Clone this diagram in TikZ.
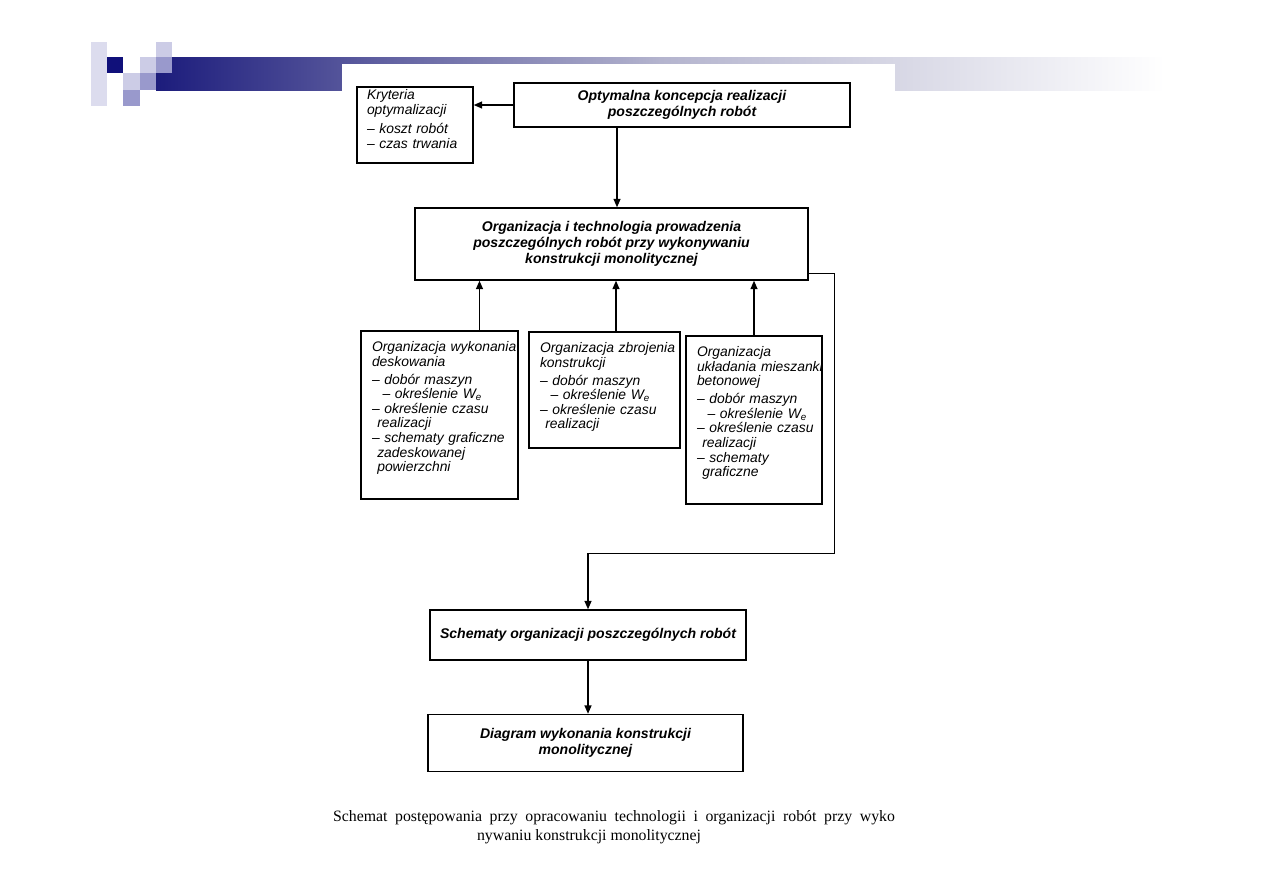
\documentclass[tikz,border=0pt]{standalone}
\usepackage{fontspec}
\setmainfont{Liberation Serif}
\setsansfont{Liberation Sans}
\usetikzlibrary{arrows.meta,positioning,calc}

\definecolor{navyhead}{HTML}{10107A}
\definecolor{barblue}{HTML}{1C1C7C}
\definecolor{barmid}{HTML}{B4B4CE}
\definecolor{sqlight}{HTML}{CCCCE6}
\definecolor{sqmid}{HTML}{9999CC}
\definecolor{sqpale}{HTML}{DCDCEE}

\hyphenpenalty=10000
\exhyphenpenalty=10000

\begin{document}
\begin{tikzpicture}[
    x=0.02cm, y=-0.02cm,
    box/.style={draw, line width=0.8pt, inner sep=0pt, font=\sffamily\bfseries\itshape\fontsize{8}{9}\selectfont, align=center},
    sub/.style={draw, line width=0.8pt, inner xsep=0.22cm, inner ysep=0.15cm, text height=0.26cm, font=\sffamily\itshape\fontsize{7.9}{8.3}\selectfont, align=left},
    arr/.style={-{Triangle[length=1.7mm, width=1.4mm]}, line width=0.8pt},
    caption/.style={font=\fontsize{9}{11}\selectfont, inner sep=0pt}
]
\useasboundingbox (0,0) rectangle (1263,893);

% slide header
\fill[sqpale] (91,42) rectangle (107,106);
\fill[navyhead] (107,57) rectangle (123,73);
\fill[sqlight] (123,73) rectangle (140,90);
\fill[sqmid] (123,90) rectangle (140,106);
\fill[sqlight] (140,57) rectangle (156,73);
\fill[sqmid] (140,73) rectangle (156,90);
\fill[sqlight] (156,42) rectangle (172,57);
\shade[left color=barblue, right color=white, middle color=barmid] (156,57) rectangle (1165,90);
\fill[sqmid] (156,57) rectangle (172,73);
\fill[white] (342,64) rectangle (895,893);

% boxes
\node[box, minimum width=6.72cm, minimum height=0.88cm] (opt) at (682,105) {Optymalna koncepcja realizacji\\poszczególnych robót};
\node[sub, inner xsep=0.2cm, inner ysep=0.05cm, text height=0.2cm, text width=1.92cm, text depth=1.22cm, minimum width=2.32cm, minimum height=1.52cm] (krit) at (415,125) {Kryteria\\optymalizacji\\[3pt]–~koszt~robót\\–~czas~trwania};
\node[box, minimum width=7.86cm, minimum height=1.44cm] (org) at (611.5,244) {Organizacja i technologia prowadzenia\\poszczególnych robót przy wykonywaniu\\konstrukcji monolitycznej};

\node[sub, text width=2.70cm, text depth=2.80cm, minimum width=3.14cm, minimum height=3.36cm] (desk) at (439.5,415) {Organizacja~wykonania\\deskowania\\[2pt]–~dobór~maszyn\\\hspace*{6pt}–~określenie~W\textsubscript{e}\\–~określenie~czasu\\\hspace*{3pt}realizacji\\–~schematy~graficzne\\\hspace*{3pt}zadeskowanej\\\hspace*{3pt}powierzchni};
\node[sub, text width=2.58cm, text depth=1.76cm, minimum width=3.02cm, minimum height=2.32cm] (zbroj) at (604.5,390) {Organizacja~zbrojenia\\konstrukcji\\[2pt]–~dobór~maszyn\\\hspace*{6pt}–~określenie~W\textsubscript{e}\\–~określenie~czasu\\\hspace*{3pt}realizacji};
\node[sub, text width=2.28cm, text depth=2.80cm, minimum width=2.72cm, minimum height=3.36cm] (beton) at (754,420) {Organizacja\\układania~mieszanki\\betonowej\\[2pt]–~dobór~maszyn\\\hspace*{6pt}–~określenie~W\textsubscript{e}\\–~określenie~czasu\\\hspace*{3pt}realizacji\\–~schematy\\\hspace*{3pt}graficzne};

\node[box, minimum width=6.32cm, minimum height=1.0cm] (schem) at (588,635) {Schematy organizacji poszczególnych robót};
\node[box, minimum width=6.3cm, minimum height=1.14cm] (diag) at (585.5,743) {Diagram wykonania konstrukcji\\monolitycznej};

% connectors
\draw[arr] (opt.west) -- (opt.west -| krit.east);
\draw[arr] ([xshift=-1.3cm]opt.south) -- ([xshift=-1.3cm]opt.south |- org.north);
\draw[arr] ([xshift=0.8cm]desk.north) -- ([xshift=0.8cm]desk.north |- org.south);
\draw[arr] ([xshift=0.23cm]zbroj.north) -- ([xshift=0.23cm]zbroj.north |- org.south);
\draw[arr] (beton.north) -- (beton.north |- org.south);
\coordinate (bend) at ([yshift=1.12cm]schem.north);
\draw[arr] ([yshift=0.14cm]org.south east) -- ++(26,0) |- (bend) -- (schem.north);
\draw[arr] (schem.south) -- (schem.south |- diag.north);

% caption
\node[caption] (cap1) at (614,818) {\makebox[11.24cm][s]{Schemat postępowania przy opracowaniu technologii i organizacji robót przy wyko}};
\node[caption] (cap2) at (589,837) {nywaniu konstrukcji monolitycznej};
\end{tikzpicture}
\end{document}
